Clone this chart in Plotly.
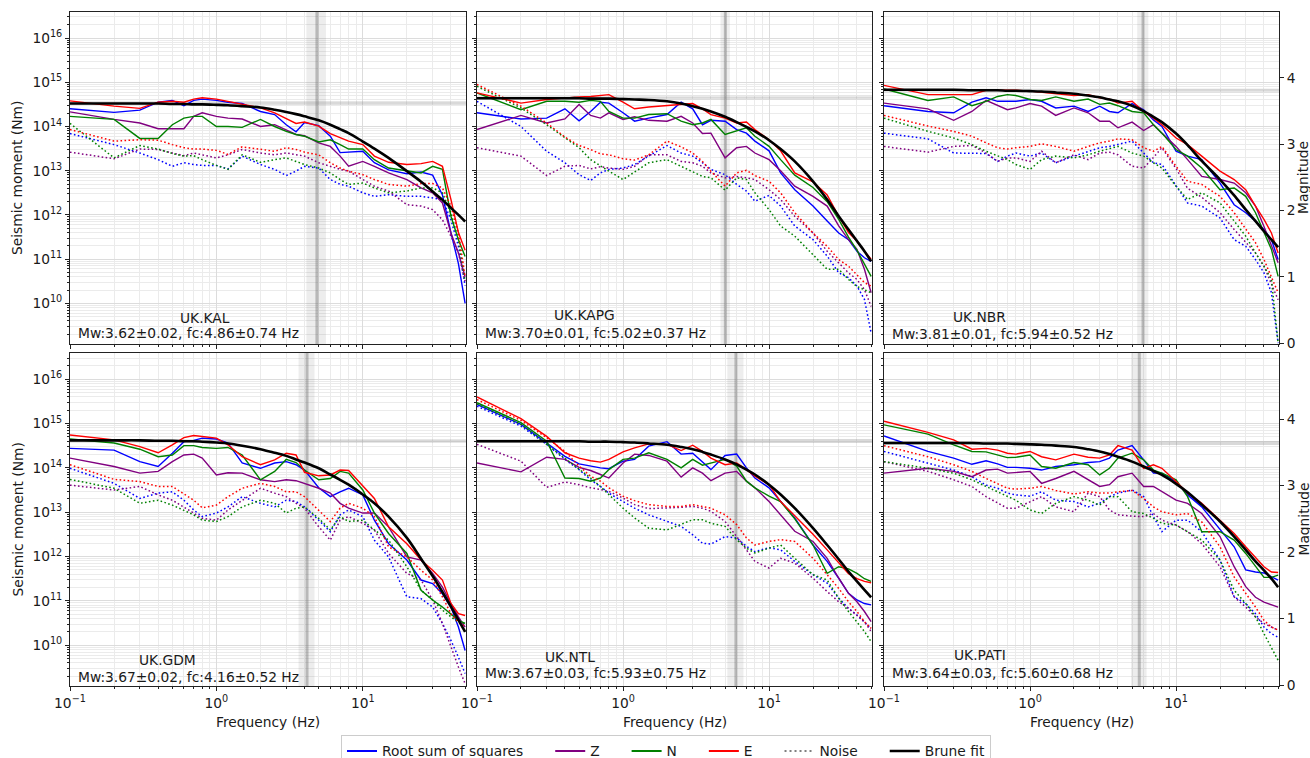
import math
import plotly.graph_objects as go

# ---------------- data ----------------
freq_hz = [0.1, 0.2, 0.3, 0.4, 0.5, 0.6, 0.7, 0.8, 1.0, 1.2,
           1.5, 2.0, 2.5, 3.0, 3.5, 4.0, 5.0, 6.0, 7.0, 8.0,
           10, 12, 15, 20, 25, 30, 35, 40, 45, 50]

# log10 of seismic moment (Nm)
kal_rss = [14.40,14.32,14.37,14.55,14.59,14.47,14.59,14.62,14.59,14.55, 14.52,14.34,14.27,14.04,13.88,14.09,14.02,13.78,13.41,13.42, 13.44,13.18,13.02,12.93,12.97,12.90,12.45,11.60,10.90,10.00]
kal_z = [14.33,14.16,14.08,13.95,13.95,13.95,14.23,14.31,14.23,14.19, 14.17,14.00,14.04,13.93,13.82,13.79,13.63,13.55,13.33,13.10, 13.21,13.10,12.95,12.80,12.61,12.50,12.27,11.59,11.14,10.60]
kal_n = [14.23,14.16,13.73,13.73,14.04,14.19,14.23,14.23,14.00,14.00, 13.98,14.16,14.00,13.89,13.82,13.78,13.65,13.70,13.59,13.49, 13.49,13.25,13.06,12.99,12.95,13.10,13.03,11.97,11.44,11.06]
kal_e = [14.58,14.46,14.41,14.55,14.57,14.55,14.62,14.65,14.62,14.57, 14.50,14.42,14.31,14.17,14.07,14.10,14.01,13.84,13.74,13.67, 13.59,13.33,13.19,13.14,13.16,13.21,13.10,12.35,11.60,11.20]
kal_rss_noise = [13.84,13.59,13.40,13.25,13.10,13.18,13.14,13.12,13.12,13.04, 13.33,13.14,13.03,12.89,12.99,13.10,13.06,12.80,12.69,12.65, 12.50,12.42,12.46,12.42,12.42,12.38,12.35,11.89,11.29,10.40]
kal_z_noise = [13.42,13.27,13.49,13.48,13.40,13.34,13.40,13.36,13.29,13.36, 13.48,13.40,13.36,13.40,13.36,13.33,13.18,13.10,13.03,12.99, 12.80,12.65,12.54,12.23,12.20,12.12,11.89,11.52,11.14,10.50]
kal_n_noise = [14.07,13.29,13.57,13.49,13.39,13.33,13.34,13.25,13.12,13.03, 13.36,13.19,13.25,13.29,13.21,13.14,13.06,12.95,12.80,12.69, 12.72,12.61,12.50,12.54,12.61,12.61,12.50,12.04,11.44,10.50]
kal_e_noise = [13.93,13.67,13.70,13.69,13.59,13.52,13.49,13.49,13.46,13.37, 13.54,13.49,13.44,13.52,13.48,13.42,13.36,13.18,13.06,12.99, 12.91,12.80,12.69,12.65,12.71,12.71,12.61,12.20,11.60,10.60]
kal_brune = [14.52,14.52,14.52,14.52,14.51,14.51,14.50,14.50,14.49,14.48, 14.46,14.43,14.38,14.33,14.28,14.23,14.14,14.04,13.94,13.85, 13.66,13.50,13.29,12.99,12.75,12.53,12.34,12.16,12.00,11.85]

kapg_rss = [14.31,14.17,14.19,14.40,14.13,14.34,14.55,14.53,14.31,14.12, 14.19,14.27,14.55,14.40,14.04,14.14,14.12,13.93,13.85,13.67, 13.45,12.95,12.57,12.20,11.86,11.59,11.44,11.18,11.03,10.95]
kapg_z = [13.93,14.25,14.08,14.17,14.50,14.25,14.19,14.31,14.16,14.22, 14.14,14.12,14.23,14.08,13.84,13.85,13.29,13.52,13.55,13.40, 13.25,13.00,12.65,12.42,12.20,11.75,11.44,11.22,10.77,10.24]
kapg_n = [14.76,14.38,14.57,14.57,14.55,14.59,14.57,14.34,14.19,14.19, 14.27,14.29,14.12,14.04,14.08,14.16,13.82,13.91,13.97,13.78, 13.55,13.25,12.90,12.62,12.30,11.90,11.50,11.20,10.90,10.61]
kapg_e = [14.76,14.53,14.61,14.65,14.67,14.68,14.70,14.72,14.55,14.40, 14.44,14.47,14.50,14.52,14.40,14.27,14.19,14.08,14.10,13.93, 13.70,13.45,12.95,12.75,12.45,11.97,11.60,11.41,11.18,11.00]
kapg_rss_noise = [14.57,14.00,13.44,13.18,12.91,12.78,12.95,13.03,13.06,13.14, 13.33,13.57,13.40,13.33,13.18,13.03,12.91,12.69,12.54,12.31, 12.44,12.20,11.75,11.44,11.07,10.69,10.58,10.39,10.09,9.33]
kapg_z_noise = [13.52,13.33,12.89,13.10,13.12,13.04,13.09,13.06,13.03,13.10, 13.36,13.36,13.21,13.18,13.10,12.95,12.84,12.87,12.84,12.80, 12.57,12.35,11.97,11.59,11.18,10.92,10.69,10.54,10.31,9.93]
kapg_n_noise = [14.91,14.42,14.04,13.74,13.52,13.25,13.10,12.99,12.80,12.98, 13.18,13.25,13.10,12.99,12.87,12.84,12.56,12.84,12.80,12.50, 12.12,11.75,11.52,11.10,10.77,10.77,10.54,10.38,10.30,10.24]
kapg_e_noise = [14.95,14.46,14.08,13.76,13.57,13.48,13.38,13.36,13.27,13.24, 13.36,13.67,13.54,13.40,13.21,12.99,12.65,12.95,13.01,12.89, 12.76,12.50,12.05,11.59,11.29,10.99,10.84,10.65,10.47,10.39]
kapg_brune = [14.64,14.64,14.64,14.64,14.64,14.63,14.63,14.63,14.62,14.61, 14.60,14.57,14.52,14.46,14.40,14.34,14.22,14.10,13.99,13.89, 13.69,13.49,13.21,12.76,12.35,11.97,11.67,11.41,11.18,10.95]

nbr_rss = [14.47,14.34,14.31,14.55,14.65,14.57,14.57,14.57,14.61,14.57, 14.42,14.46,14.34,14.46,14.34,14.31,14.52,14.38,14.15,14.00, 13.44,13.33,13.25,12.72,12.23,12.05,11.86,11.67,11.44,10.99]
nbr_z = [14.53,14.40,14.14,14.34,14.59,14.47,14.38,14.42,14.52,14.46, 14.25,14.42,14.31,14.12,14.12,13.97,14.10,13.91,14.04,13.85, 13.55,13.25,12.87,12.80,12.72,12.50,12.20,11.74,11.29,10.92]
nbr_n = [14.85,14.59,14.67,14.47,14.57,14.68,14.72,14.70,14.61,14.59, 14.67,14.57,14.62,14.50,14.53,14.47,14.34,14.31,14.04,13.85, 13.48,13.33,13.06,12.57,12.61,12.42,12.05,11.59,11.22,10.61]
nbr_e = [14.93,14.72,14.72,14.72,14.82,14.82,14.82,14.82,14.80,14.77, 14.74,14.70,14.72,14.65,14.62,14.53,14.57,14.34,14.19,14.04, 13.74,13.59,13.33,12.99,12.80,12.57,12.20,11.90,11.59,11.14]
nbr_rss_noise = [13.85,13.72,13.40,13.39,13.39,13.21,13.33,13.40,13.33,13.40, 13.18,13.33,13.44,13.52,13.55,13.59,13.67,13.40,13.18,13.14, 12.65,12.27,12.20,11.93,11.44,11.29,10.99,10.69,10.24,9.10]
nbr_z_noise = [13.55,13.42,13.55,13.57,13.40,13.21,13.29,13.29,13.21,13.44, 13.18,13.36,13.25,13.40,13.42,13.36,13.10,13.06,13.30,13.52, 13.05,12.60,12.40,12.05,11.67,11.37,11.14,10.84,10.46,10.08]
nbr_n_noise = [14.19,13.89,13.74,13.59,13.44,13.33,13.25,13.14,13.03,13.25, 13.33,13.29,13.36,13.44,13.49,13.55,13.40,13.33,13.18,13.06, 12.65,12.35,12.50,12.27,11.86,11.52,11.14,10.84,10.54,9.10]
nbr_e_noise = [14.25,14.01,13.89,13.78,13.63,13.52,13.49,13.52,13.55,13.61, 13.55,13.44,13.55,13.63,13.67,13.72,13.70,13.52,13.44,13.55, 13.10,12.76,12.69,12.42,12.05,11.67,11.37,10.99,10.61,10.24]
nbr_brune = [14.83,14.83,14.83,14.82,14.82,14.82,14.81,14.81,14.80,14.79, 14.77,14.74,14.70,14.66,14.61,14.57,14.47,14.35,14.22,14.10, 13.84,13.58,13.22,12.80,12.44,12.12,11.86,11.63,11.44,11.27]

gdm_rss = [14.44,14.40,14.14,14.03,14.33,14.59,14.62,14.67,14.65,14.56, 14.11,13.99,14.11,14.14,14.07,13.95,13.55,13.35,13.46,13.54, 13.39,12.82,12.29,11.92,11.47,11.39,11.16,10.86,10.41,9.88]
gdm_z = [14.22,14.03,13.88,13.92,14.14,14.29,14.31,14.22,13.84,13.89, 13.88,13.73,13.69,13.73,13.71,13.65,13.54,13.43,13.20,13.09, 12.98,12.98,12.67,11.99,11.92,11.62,11.31,10.94,10.64,10.41]
gdm_n = [14.65,14.56,14.42,14.25,14.29,14.50,14.50,14.46,14.44,14.46, 14.29,13.73,13.92,14.19,14.12,13.95,13.73,13.76,13.92,13.88, 13.50,12.98,12.52,12.07,11.24,11.02,10.86,10.71,10.56,10.49]
gdm_e = [14.74,14.63,14.48,14.34,14.52,14.68,14.73,14.71,14.67,14.52, 14.25,14.07,14.18,14.33,14.29,13.90,13.82,13.84,13.95,13.94, 13.58,13.31,12.67,12.29,11.92,11.69,11.47,10.94,10.71,10.67]
gdm_rss_noise = [13.99,13.65,13.31,13.43,13.46,13.27,13.05,12.90,12.98,13.12, 13.35,13.20,13.12,13.27,13.24,13.12,12.82,12.56,12.94,13.05, 12.90,12.37,11.99,11.09,11.05,10.86,10.49,10.11,9.73,9.36]
gdm_z_noise = [13.61,13.50,13.58,13.39,13.27,13.12,12.98,12.86,12.82,13.05, 13.27,13.54,13.43,13.35,13.20,13.09,12.67,12.37,12.82,12.90, 12.75,12.60,12.07,11.62,11.47,11.02,10.49,9.96,9.51,9.13]
gdm_n_noise = [13.74,13.54,13.20,13.27,13.16,13.05,12.94,12.82,12.79,12.90, 13.12,13.27,13.20,12.98,13.09,13.12,12.86,12.60,12.90,12.79, 12.82,12.60,12.37,11.77,11.24,11.02,10.79,10.64,10.52,10.49]
gdm_e_noise = [14.07,13.74,13.69,13.58,13.58,13.41,13.27,13.10,13.16,13.35, 13.54,13.65,13.58,13.46,13.46,13.35,13.05,12.79,13.09,13.20, 13.09,12.90,12.22,11.99,11.69,11.47,11.09,10.71,10.52,10.41]
gdm_brune = [14.62,14.62,14.62,14.61,14.61,14.60,14.60,14.59,14.57,14.55, 14.50,14.42,14.34,14.27,14.19,14.12,13.99,13.85,13.73,13.62, 13.40,13.20,12.90,12.42,11.95,11.56,11.20,10.87,10.57,10.30]

ntl_rss = [15.43,14.98,14.56,14.26,14.09,14.04,14.00,13.98,14.15,14.19, 14.49,14.59,14.31,14.33,14.12,13.96,14.28,14.31,14.00,13.77, 13.55,13.24,12.87,12.26,11.89,11.51,11.17,11.02,10.94,10.91]
ntl_z = [14.11,13.91,14.24,14.19,14.01,13.94,13.85,13.77,14.11,14.31, 14.28,14.15,13.79,14.00,13.88,13.71,13.88,13.92,13.70,13.55, 13.24,12.94,12.57,12.34,11.96,11.51,11.17,10.98,10.76,10.53]
ntl_n = [15.47,15.02,14.60,13.77,13.76,13.70,13.77,13.96,14.19,14.22, 14.34,14.19,14.00,14.19,14.06,14.11,14.19,14.04,13.70,13.55, 13.36,13.24,12.85,12.26,11.62,11.77,11.72,11.62,11.50,11.44]
ntl_e = [15.60,15.11,14.71,14.34,14.22,14.16,14.13,14.19,14.36,14.45, 14.54,14.53,14.39,14.51,14.37,14.22,14.07,14.11,13.96,13.81, 13.62,13.24,12.92,12.50,12.15,11.85,11.61,11.50,11.44,11.41]
ntl_rss_noise = [15.39,14.94,14.53,14.19,13.96,13.73,13.58,13.43,13.24,13.09, 12.94,12.79,12.68,12.49,12.30,12.28,12.45,12.42,12.23,12.11, 12.20,12.15,11.89,11.59,11.40,11.06,10.83,10.68,10.53,10.38]
ntl_z_noise = [14.53,14.15,13.56,13.68,13.62,13.55,13.51,13.47,13.32,13.17, 13.08,13.09,13.11,13.13,13.09,13.02,12.79,12.45,12.15,11.89, 11.74,11.96,11.85,11.51,11.21,10.98,10.83,10.68,10.53,10.31]
ntl_n_noise = [15.44,14.98,14.53,14.22,13.96,13.77,13.58,13.39,13.09,12.87, 12.64,12.60,12.72,12.83,12.83,12.75,12.68,12.38,12.19,12.08, 12.19,12.26,11.96,11.59,11.47,11.06,10.76,10.53,10.31,10.08]
ntl_e_noise = [15.54,15.07,14.68,14.37,14.04,13.81,13.70,13.55,13.36,13.26, 13.17,13.13,13.13,13.17,13.13,13.09,12.94,12.72,12.42,12.26, 12.34,12.38,12.34,11.96,11.59,11.28,10.98,10.76,10.53,10.38]
ntl_brune = [14.60,14.60,14.60,14.60,14.60,14.59,14.59,14.59,14.58,14.57, 14.55,14.52,14.47,14.42,14.36,14.30,14.19,14.08,13.96,13.85, 13.62,13.40,13.09,12.64,12.26,11.94,11.66,11.44,11.25,11.08]

pati_rss = [14.72,14.37,14.22,14.08,14.16,14.09,14.01,14.01,13.99,13.95, 14.03,14.07,14.12,14.14,14.22,14.40,14.50,14.18,13.88,13.88, 13.69,13.39,13.12,12.60,12.22,11.70,11.65,11.63,11.54,11.47]
pati_z = [13.88,13.99,13.92,13.80,13.95,13.97,13.88,13.89,13.92,13.65, 13.76,13.92,13.73,13.58,13.62,13.80,13.88,13.58,13.58,13.46, 13.27,13.20,12.97,12.45,11.77,11.32,11.08,10.97,10.92,10.86]
pati_n = [14.97,14.76,14.52,14.37,14.36,14.29,14.23,14.24,14.29,14.03, 13.99,14.12,14.07,13.84,13.99,14.22,14.33,14.18,13.95,13.88, 13.73,13.35,12.56,12.56,12.37,12.07,11.77,11.53,11.53,11.58]
pati_e = [15.05,14.80,14.63,14.42,14.44,14.40,14.33,14.31,14.37,14.25, 14.18,14.31,14.24,14.22,14.29,14.50,14.40,13.99,14.07,13.99, 13.69,13.43,13.20,12.82,12.52,12.22,11.99,11.77,11.65,11.64]
pati_rss_noise = [14.37,14.10,13.95,13.80,13.61,13.54,13.43,13.39,13.36,13.46, 13.27,13.24,13.12,13.20,13.35,13.43,13.50,13.35,12.90,12.56, 12.82,12.82,12.56,11.92,11.09,10.94,10.71,10.41,10.26,10.18]
pati_z_noise = [14.14,13.92,13.73,13.58,13.35,13.20,13.09,13.09,13.24,13.35, 13.12,13.01,13.43,13.35,13.05,12.94,12.91,12.90,12.97,12.82, 12.71,12.56,12.29,11.77,11.09,10.86,10.64,10.49,10.41,10.34]
pati_n_noise = [14.14,13.99,13.88,13.73,13.58,13.46,13.35,13.27,13.05,12.97, 13.20,13.35,13.27,13.16,13.35,13.35,13.01,12.97,12.86,12.75, 12.71,12.56,12.37,11.92,11.24,10.94,10.64,10.26,9.96,9.66]
pati_e_noise = [14.50,14.25,14.07,13.92,13.76,13.65,13.54,13.52,13.54,13.58, 13.49,13.41,13.46,13.43,13.43,13.46,13.49,13.31,13.12,13.01, 12.94,12.97,12.78,12.22,11.54,11.17,10.86,10.56,10.41,10.34]
pati_brune = [14.56,14.56,14.56,14.56,14.55,14.55,14.55,14.54,14.53,14.52, 14.50,14.47,14.42,14.37,14.31,14.25,14.14,14.03,13.93,13.84, 13.64,13.45,13.17,12.79,12.45,12.15,11.89,11.69,11.50,11.31]

stations = ["UK.KAL", "UK.KAPG", "UK.NBR", "UK.GDM", "UK.NTL", "UK.PATI"]
mw = [3.62, 3.70, 3.81, 3.67, 3.67, 3.64]
mw_err = [0.02, 0.01, 0.01, 0.02, 0.03, 0.03]
fc = [4.86, 5.02, 5.94, 4.16, 5.93, 5.60]
fc_err = [0.74, 0.37, 0.52, 0.52, 0.75, 0.68]

x_ticks = [0.1, 1, 10]
x_tick_text = ["10<sup>\u22121</sup>", "10<sup>0</sup>", "10<sup>1</sup>"]
y_decades = [10, 11, 12, 13, 14, 15, 16]
mag_ticks = [0, 1, 2, 3, 4]

legend_names = ["Root sum of squares", "Z", "N", "E", "Noise", "Brune fit"]

# ---------------- layout constants ----------------
W, H = 1310, 758
FONT = "DejaVu Sans"
FS = 13.8
TXT = "#1a1a1a"
col_px = [(70, 466), (477, 872), (884, 1279)]
row_px = [(12, 344), (353, 686)]
F_MAX = 50.7
X_RANGE = [-1, math.log10(F_MAX)]
Y_RANGE = [9.08, 16.59]
name_x_off = [108, 75, 67, 67, 66, 68]
name_y_px = [318, 315, 317, 660, 657, 655]
mw_y_px = [333, 333, 334, 677, 673, 673]

panels = [
    (kal_rss, kal_z, kal_n, kal_e, kal_rss_noise, kal_z_noise, kal_n_noise, kal_e_noise, kal_brune),
    (kapg_rss, kapg_z, kapg_n, kapg_e, kapg_rss_noise, kapg_z_noise, kapg_n_noise, kapg_e_noise, kapg_brune),
    (nbr_rss, nbr_z, nbr_n, nbr_e, nbr_rss_noise, nbr_z_noise, nbr_n_noise, nbr_e_noise, nbr_brune),
    (gdm_rss, gdm_z, gdm_n, gdm_e, gdm_rss_noise, gdm_z_noise, gdm_n_noise, gdm_e_noise, gdm_brune),
    (ntl_rss, ntl_z, ntl_n, ntl_e, ntl_rss_noise, ntl_z_noise, ntl_n_noise, ntl_e_noise, ntl_brune),
    (pati_rss, pati_z, pati_n, pati_e, pati_rss_noise, pati_z_noise, pati_n_noise, pati_e_noise, pati_brune),
]
for p in panels:
    for s in p:
        assert len(s) == len(freq_hz)

colors = ["blue", "purple", "green", "red"]
DOT = "1.6px,2.4px"
Y_LO, Y_HI = 10 ** Y_RANGE[0], 10 ** Y_RANGE[1]

fig = go.Figure()


def ax_suffix(i):
    return "" if i == 0 else str(i + 1)


def tfont():
    return dict(family=FONT, size=FS, color=TXT)


x_minor = [m * 10 ** k for k in (-1, 0, 1) for m in range(2, 10) if m * 10 ** k <= F_MAX]
y_minor = [m * 10.0 ** k for k in range(9, 17) for m in range(2, 10)]

layout_axes = {}
annotations = []
NOHOVER = dict(showlegend=False, hoverinfo="skip")

for i, p in enumerate(panels):
    row, col = divmod(i, 3)
    sfx = ax_suffix(i)
    xr, yr = "x" + sfx, "y" + sfx

    # corner-frequency band and line, magnitude band (drawn first, under the spectra)
    f_lo, f_hi = fc[i] - fc_err[i], fc[i] + fc_err[i]
    fig.add_trace(go.Scatter(x=[f_lo, f_hi, f_hi, f_lo], y=[Y_LO, Y_LO, Y_HI, Y_HI],
                             fill="toself", fillcolor="rgba(128,128,128,0.14)", mode="none",
                             xaxis=xr, yaxis=yr, **NOHOVER))
    m_lo = 10 ** (1.5 * (mw[i] - mw_err[i]) + 9.1)
    m_hi = 10 ** (1.5 * (mw[i] + mw_err[i]) + 9.1)
    m_mid = 10 ** (1.5 * mw[i] + 9.1)
    fig.add_trace(go.Scatter(x=[0.1, F_MAX, F_MAX, 0.1], y=[m_lo, m_lo, m_hi, m_hi],
                             fill="toself", fillcolor="rgba(128,128,128,0.16)", mode="none",
                             xaxis=xr, yaxis=yr, **NOHOVER))
    fig.add_trace(go.Scatter(x=[0.1, F_MAX], y=[m_mid, m_mid], mode="lines",
                             line=dict(color="rgba(128,128,128,0.17)", width=4),
                             xaxis=xr, yaxis=yr, **NOHOVER))
    fig.add_trace(go.Scatter(x=[fc[i], fc[i]], y=[Y_LO, Y_HI], mode="lines",
                             line=dict(color="rgba(120,120,120,0.45)", width=3),
                             xaxis=xr, yaxis=yr, **NOHOVER))

    solids, noises, brune = p[0:4], p[4:8], p[8]
    for c, s_sol, s_noi in zip(colors, solids, noises):
        fig.add_trace(go.Scatter(x=freq_hz, y=[10 ** v for v in s_sol], mode="lines",
                                 line=dict(color=c, width=1.4), xaxis=xr, yaxis=yr, **NOHOVER))
        fig.add_trace(go.Scatter(x=freq_hz, y=[10 ** v for v in s_noi], mode="lines",
                                 line=dict(color=c, width=1.5, dash=DOT), xaxis=xr, yaxis=yr,
                                 **NOHOVER))
    fig.add_trace(go.Scatter(x=freq_hz, y=[10 ** v for v in brune], mode="lines",
                             line=dict(color="black", width=2.6, shape="spline"),
                             xaxis=xr, yaxis=yr, **NOHOVER))

    x0, x1 = col_px[col]
    y0, y1 = row_px[row]
    grid_major = "#dcdcdc"
    grid_minor = "#ebebeb"
    layout_axes["xaxis" + sfx] = dict(
        type="log", range=X_RANGE, domain=[x0 / W, x1 / W], anchor=yr, automargin=False,
        tickmode="array", tickvals=x_ticks, ticktext=x_tick_text,
        showticklabels=(row == 1), ticks="outside", ticklen=4, tickwidth=1, tickcolor="#222",
        showline=True, linecolor="#222", linewidth=1, mirror=True,
        showgrid=True, gridcolor=grid_major, gridwidth=1, zeroline=False,
        minor=dict(tickmode="array", tickvals=x_minor, ticks="outside", ticklen=2,
                   tickcolor="#222", showgrid=True, gridcolor=grid_minor, gridwidth=1),
        tickfont=tfont())
    layout_axes["yaxis" + sfx] = dict(
        type="log", range=Y_RANGE, domain=[1 - y1 / H, 1 - y0 / H], anchor=xr, automargin=False,
        tickmode="array", tickvals=[10.0 ** k for k in y_decades],
        ticktext=["10<sup>%d</sup>" % k for k in y_decades],
        showticklabels=(col == 0), ticks="outside", ticklen=4, tickwidth=1, tickcolor="#222",
        showline=True, linecolor="#222", linewidth=1, mirror=True,
        showgrid=True, gridcolor=grid_major, gridwidth=1, zeroline=False,
        minor=dict(tickmode="array", tickvals=y_minor, ticks="outside", ticklen=2,
                   tickcolor="#222", showgrid=True, gridcolor=grid_minor, gridwidth=1),
        tickfont=tfont())

    annotations.append(dict(x=(x0 + name_x_off[i]) / W, y=1 - name_y_px[i] / H, xref="paper",
                            yref="paper", xanchor="left", yanchor="middle", showarrow=False,
                            text=stations[i], font=tfont()))
    annotations.append(dict(x=(x0 + 6) / W, y=1 - mw_y_px[i] / H, xref="paper", yref="paper",
                            xanchor="left", yanchor="middle", showarrow=False,
                            text="Mw:%.2f\u00b1%.2f, fc:%.2f\u00b1%.2f Hz" % (mw[i], mw_err[i], fc[i], fc_err[i]),
                            font=tfont()))

# magnitude axes on the right column
mag_range = [(Y_RANGE[0] - 9.1) / 1.5, (Y_RANGE[1] - 9.1) / 1.5]
for pi, ax_name in [(2, "yaxis7"), (5, "yaxis8")]:
    sfx = ax_suffix(pi)
    layout_axes[ax_name] = dict(
        overlaying="y" + sfx, anchor="x" + sfx, side="right", range=mag_range, automargin=False,
        tickmode="array", tickvals=mag_ticks, ticks="outside", ticklen=4, tickcolor="#222",
        showgrid=False, zeroline=False, showline=False, tickfont=tfont())
    fig.add_trace(go.Scatter(x=[fc[pi]], y=[mw[pi]], xaxis="x" + sfx, yaxis="y" + ax_name[5:],
                             mode="markers", marker=dict(opacity=0), **NOHOVER))

# axis titles
for row in range(2):
    yc = 1 - (row_px[row][0] + row_px[row][1]) / 2 / H
    annotations.append(dict(x=17 / W, y=yc, xref="paper", yref="paper", textangle=-90,
                            xanchor="center", yanchor="middle",
                            showarrow=False, text="Seismic moment (Nm)", font=tfont()))
    annotations.append(dict(x=1303 / W, y=yc, xref="paper", yref="paper", textangle=-90,
                            xanchor="center", yanchor="middle",
                            showarrow=False, text="Magnitude", font=tfont()))
for col in range(3):
    xc = (col_px[col][0] + col_px[col][1]) / 2 / W
    annotations.append(dict(x=xc, y=1 - 721.5 / H, xref="paper", yref="paper", showarrow=False,
                            xanchor="center", yanchor="middle", text="Frequency (Hz)",
                            font=tfont()))

# legend entries
legend_styles = [dict(color="blue", width=2), dict(color="purple", width=2),
                 dict(color="green", width=2), dict(color="red", width=2),
                 dict(color="gray", width=2, dash="2px,3px"), dict(color="black", width=2.6)]
PAD = "\u00a0" * 5
for j, (name, st) in enumerate(zip(legend_names, legend_styles)):
    label = name + (PAD if j < len(legend_names) - 1 else "")
    fig.add_trace(go.Scatter(x=[None], y=[None], mode="lines", line=st, name=label,
                             showlegend=True, xaxis="x", yaxis="y"))

fig.update_layout(
    width=W, height=H, margin=dict(l=0, r=0, t=0, b=0, autoexpand=False), autosize=False,
    paper_bgcolor="white", plot_bgcolor="white",
    font=tfont(),
    annotations=annotations,
    legend=dict(orientation="h", x=666 / W, xanchor="center", y=1 - 751 / H, yanchor="middle",
                bgcolor="white", bordercolor="#cccccc", borderwidth=1,
                font=tfont(), itemwidth=30, tracegroupgap=0),
    **layout_axes,
)

fig.write_html("out.html")
